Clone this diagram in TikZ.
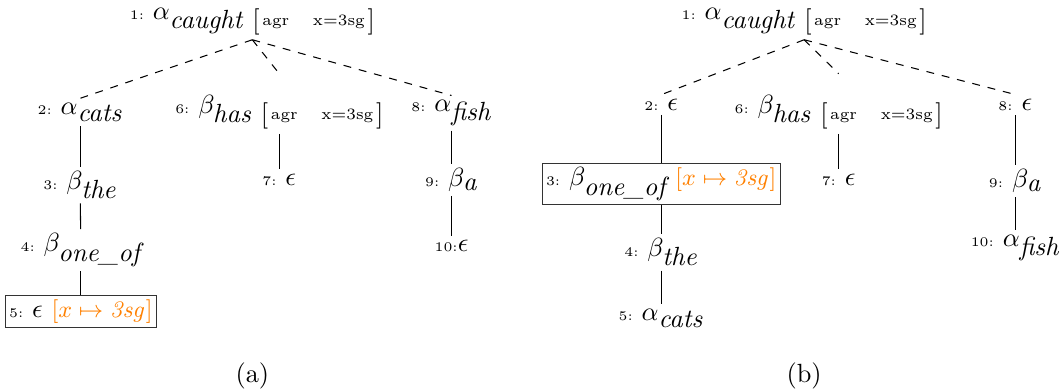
\documentclass[tikz,border=0pt]{standalone}
\usepackage{xcolor}
\newcommand{\nlab}[1]{{\tiny #1:}\ }
\newcommand{\etree}[2]{$#1_{\mbox{\itshape #2}}$}
\newcommand{\avm}{\raisebox{-3.5pt}{$\left[\raisebox{1.2pt}{\fontsize{6}{7}\selectfont\,agr\hspace{9pt}x=3sg\,}\right]$}}
\newcommand{\subst}{{\small\color{orange}$[x\mapsto\mathit{3sg}]$}}

\begin{document}
\begin{tikzpicture}[
  tnode/.style={inner sep=1.5pt},
  hlbox/.style={tnode,draw=black!80,thin},
  tedge/.style={thin},
  dedge/.style={thin,dashed},
]
  \useasboundingbox (0,0) rectangle (14.17,5.21);

  % Tree (a)
  \node[tnode] (a1) at (3.37,4.92) {\nlab{1}\etree{\alpha}{caught} \avm};
  \node[tnode] (a2) at (1.07,3.71) {\nlab{2}\etree{\alpha}{cats}};
  \node[tnode] (a3) at (1.07,2.74) {\nlab{3}\etree{\beta}{the}};
  \node[tnode] (a4) at (1.08,1.87) {\nlab{4}\etree{\beta}{one\_of}};
  \node[hlbox] (a5) at (1.08,1.05) {\nlab{5}$\epsilon$ \subst};
  \node[tnode] (a6) at (3.73,3.71) {\nlab{6}\etree{\beta}{has} \avm};
  \node[tnode] (a7) at (3.73,2.81) {\nlab{7}$\epsilon$};
  \node[tnode] (a8) at (6.03,3.70) {\nlab{8}\etree{\alpha}{fish}};
  \node[tnode] (a9) at (6.03,2.81) {\nlab{9}\etree{\beta}{a}};
  \node[tnode] (a10) at (6.03,1.92) {{\tiny 10:}$\epsilon$};

  \draw[dedge] (a1.south) -- (a2.north);
  \draw[dedge] (a1.south) -- ([yshift=6.5pt]a6.north);
  \draw[dedge] (a1.south) -- (a8.north);
  \draw[tedge] (a2) -- (a3);
  \draw[tedge] (a3) -- (a4);
  \draw[tedge] (a4) -- (a5);
  \draw[tedge] (a6) -- (a7);
  \draw[tedge] (a8) -- (a9);
  \draw[tedge] (a9) -- (a10);

  % Tree (b)
  \node[tnode] (b1) at (10.74,4.92) {\nlab{1}\etree{\alpha}{caught} \avm};
  \node[tnode] (b2) at (8.83,3.81) {\nlab{2}$\epsilon$};
  \node[hlbox] (b3) at (8.83,2.75) {\nlab{3}\etree{\beta}{one\_of} \subst};
  \node[tnode] (b4) at (8.83,1.84) {\nlab{4}\etree{\beta}{the}};
  \node[tnode] (b5) at (8.83,0.96) {\nlab{5}\etree{\alpha}{cats}};
  \node[tnode] (b6) at (11.20,3.71) {\nlab{6}\etree{\beta}{has} \avm};
  \node[tnode] (b7) at (11.20,2.81) {\nlab{7}$\epsilon$};
  \node[tnode] (b8) at (13.56,3.81) {\nlab{8}$\epsilon$};
  \node[tnode] (b9) at (13.56,2.79) {\nlab{9}\etree{\beta}{a}};
  \node[tnode] (b10) at (13.56,1.90) {\nlab{10}\etree{\alpha}{fish}};

  \draw[dedge] (b1.south) -- (b2.north);
  \draw[dedge] (b1.south) -- ([yshift=6.5pt]b6.north);
  \draw[dedge] (b1.south) -- (b8.north);
  \draw[tedge] (b2) -- (b3);
  \draw[tedge] (b3) -- (b4);
  \draw[tedge] (b4) -- (b5);
  \draw[tedge] (b6) -- (b7);
  \draw[tedge] (b8) -- (b9);
  \draw[tedge] (b9) -- (b10);

  % Captions
  \node (capa) at (3.37,0.19) {(a)};
  \node (capb) at (10.74,0.19) {(b)};
\end{tikzpicture}
\end{document}
